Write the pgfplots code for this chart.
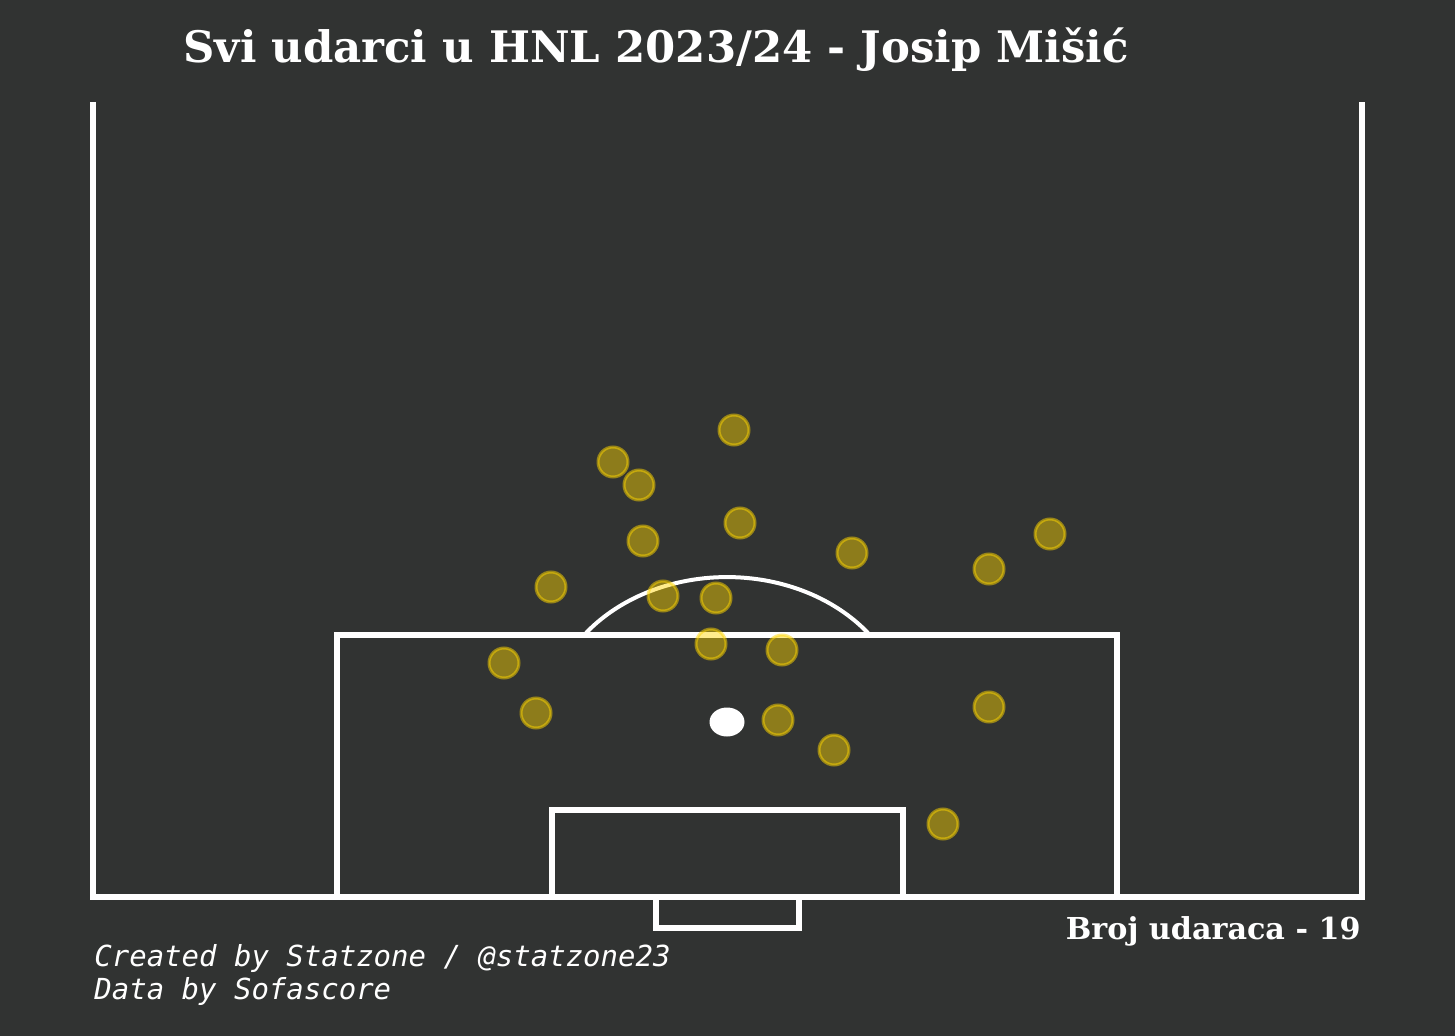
\documentclass[border=0pt]{standalone}
\usepackage{pgfplots}
\pgfplotsset{compat=1.18}
\usepackage{fontspec}
\setmainfont{DejaVu Serif}
\newfontfamily\monofont{DejaVu Sans Mono}
\definecolor{bg}{RGB}{49,51,50}
\definecolor{gold}{RGB}{255,215,0}
\begin{document}
\begin{tikzpicture}
\begin{axis}[
  width=727.5pt, height=518pt, scale only axis,
  xmin=0, xmax=1455, ymin=0, ymax=1036, y dir=reverse,
  axis lines=none, ticks=none, clip=false,
]
\fill[bg] (axis cs:0,0) rectangle (axis cs:1455,1036);
% outer pitch lines
\addplot[white, line width=3pt] coordinates {(93,102) (93,897) (1362,897) (1362,102)};
% arc
\draw[white, line width=2pt] (axis cs:586,633) arc[start angle=142.1, end angle=37.9, x radius=89.35pt, y radius=72.5pt];
% shots
\addplot[only marks, mark=*, mark size=7.5pt,
  mark options={fill=gold, draw=gold, fill opacity=0.45, draw opacity=0.5, line width=1.5pt}]
  table {
x y
734 430
613 462
639 485
740 523
643 541
852 553
1050 534
989 569
551 587
663 596
716 598
711 644
782 650
504 663
536 713
778 720
989 707
834 750
943 824
};
% boxes
\addplot[white, line width=3pt] coordinates {(337,897) (337,635) (1117,635) (1117,897)};
\addplot[white, line width=3pt] coordinates {(552,897) (552,810) (903,810) (903,897)};
\addplot[white, line width=3pt] coordinates {(656,897) (656,928) (799,928) (799,897)};
\fill[white] (axis cs:727,722) ellipse[x radius=8.75pt, y radius=7.25pt];
% texts
\node[anchor=base, text=white, font=\fontsize{21.7}{25}\selectfont\bfseries] at (axis cs:656,63) {Svi udarci u HNL 2023/24 - Josip Mišić};
\node[anchor=base east, text=white, font=\fontsize{15.1}{18}\selectfont\bfseries, inner sep=0pt] at (axis cs:1361,939) {Broj udaraca - 19};
\node[anchor=base west, text=white, font=\monofont\itshape\fontsize{14.5}{17}\selectfont, inner sep=0pt] at (axis cs:94,966) {Created by Statzone / @statzone23};
\node[anchor=base west, text=white, font=\monofont\itshape\fontsize{14.5}{17}\selectfont, inner sep=0pt] at (axis cs:94,999) {Data by Sofascore};
\end{axis}
\end{tikzpicture}
\end{document}
